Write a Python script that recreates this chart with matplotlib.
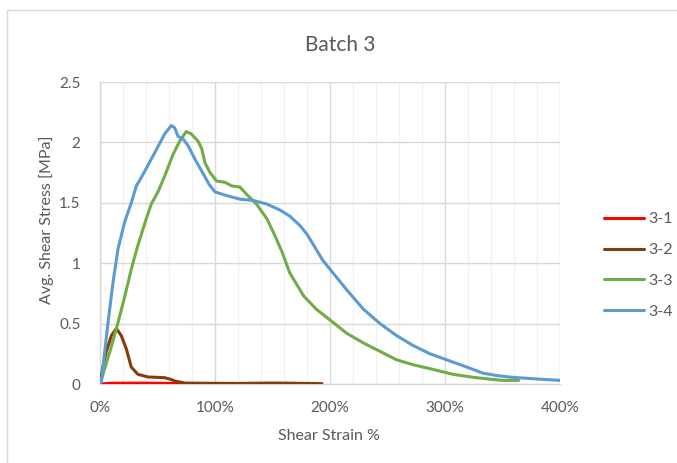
import matplotlib
matplotlib.use("Agg")
import matplotlib.pyplot as plt
from matplotlib.ticker import PercentFormatter, MultipleLocator
from matplotlib.patches import Rectangle

# Shear strain (%) and average shear stress (MPa) for each specimen
strain_31 = [0, 10, 20, 30, 40, 50, 60, 74]
stress_31 = [0, 0.006, 0.007, 0.007, 0.007, 0.006, 0.005, 0.003]

strain_32 = [0, 2.5, 5.5, 9.9, 14.2, 18.5, 22.9, 27.2, 33, 41.7, 50, 56.2, 61, 65, 73.6,
             90, 120, 150, 170, 193]
stress_32 = [0, 0.14, 0.27, 0.40, 0.46, 0.40, 0.29, 0.14, 0.08, 0.058, 0.055, 0.052, 0.04,
             0.025, 0.008, 0.006, 0.005, 0.008, 0.006, 0.003]

strain_33 = [0, 9.9, 15.7, 21.4, 27.2, 33, 40.3, 44.6, 50.4, 56.2, 63.5, 69.3, 75, 79.4,
             85.2, 88.4, 91.3, 95.7, 101.4, 108.7, 114.5, 121.7, 127.5, 136, 145, 152,
             158, 165, 177, 188, 200, 214.5, 229, 243.5, 258, 272, 290, 307, 325, 339,
             350, 364]
stress_33 = [0, 0.31, 0.51, 0.72, 0.95, 1.15, 1.37, 1.49, 1.59, 1.72, 1.90, 2.01, 2.09, 2.07,
             2.01, 1.95, 1.83, 1.75, 1.68, 1.67, 1.64, 1.63, 1.57, 1.49, 1.37, 1.23,
             1.10, 0.92, 0.73, 0.62, 0.53, 0.42, 0.34, 0.27, 0.20, 0.16, 0.12, 0.08, 0.055,
             0.04, 0.03, 0.03]

strain_34 = [0, 1.2, 4, 7, 11.3, 15.7, 21.4, 27.2, 31.6, 35.9, 41.7, 49, 56.2, 62, 65,
             67.8, 72.2, 76.8, 82.6, 89.8, 95, 100, 110, 121.7, 133, 145, 156.5, 165, 174,
             180, 194, 200, 214.5, 229, 243.5, 258, 272, 287, 301.5, 319, 333, 345, 359,
             382.6, 400]
stress_34 = [0, 0.02, 0.26, 0.51, 0.84, 1.12, 1.34, 1.50, 1.64, 1.71, 1.81, 1.94, 2.07, 2.14,
             2.12, 2.05, 2.03, 1.97, 1.86, 1.74, 1.65, 1.59, 1.56, 1.53, 1.52, 1.49, 1.44,
             1.39, 1.31, 1.24, 1.02, 0.95, 0.78, 0.62, 0.50, 0.40, 0.32, 0.25, 0.20, 0.14,
             0.09, 0.07, 0.055, 0.04, 0.03]

labels = ["3-1", "3-2", "3-3", "3-4"]
colors = ["#FF0000", "#843C0C", "#70AD47", "#5B9BD5"]
x_ticks = [0, 100, 200, 300, 400]
y_ticks = [0, 0.5, 1, 1.5, 2, 2.5]

plt.rcParams["font.family"] = ["Lato", "DejaVu Sans"]
TXT = "#595959"

W, H = 677, 463
fig = plt.figure(figsize=(W / 100, H / 100), dpi=100)

# chart area border
fig.patches.append(Rectangle((7 / W, -0.1), 1.2, 1 - 10 / H + 0.1, transform=fig.transFigure,
                             fill=False, edgecolor="#D9D9D9", linewidth=1.0))

ax = fig.add_axes([100 / W, 1 - 384 / H, 460 / W, 302 / H])

series = [(strain_31, stress_31), (strain_32, stress_32), (strain_33, stress_33), (strain_34, stress_34)]
for (sx, sy), lab, col in zip(series, labels, colors):
    ax.plot(sx, sy, color=col, linewidth=2.2, label=lab, solid_capstyle="round",
            solid_joinstyle="round", zorder=3)

ax.set_xlim(0, 400)
ax.set_ylim(0, 2.5)
ax.set_xticks(x_ticks)
ax.set_yticks(y_ticks)
ax.set_yticklabels(["0", "0.5", "1", "1.5", "2", "2.5"])
ax.xaxis.set_major_formatter(PercentFormatter(decimals=0))
ax.xaxis.set_minor_locator(MultipleLocator(20))

ax.grid(which="major", axis="both", color="#D9D9D9", linewidth=1.0, zorder=0)
ax.grid(which="minor", axis="x", color="#F2F2F2", linewidth=1.0, zorder=0)
ax.set_axisbelow(True)

for side in ["top", "right"]:
    ax.spines[side].set_visible(False)
for side in ["left", "bottom"]:
    ax.spines[side].set_color("#D9D9D9")
    ax.spines[side].set_linewidth(1.0)

ax.tick_params(which="both", length=0, labelsize=11, labelcolor=TXT)
ax.tick_params(axis="x", pad=12)
ax.tick_params(axis="y", pad=14)

fig.text(340 / W, 1 - 45 / H, "Batch 3", ha="center", va="center", fontsize=15, color=TXT)
fig.text(329 / W, 1 - 436 / H, "Shear Strain %", ha="center", va="center", fontsize=11.5, color=TXT)
fig.text(47 / W, 1 - 220 / H, "Avg. Shear Stress [MPa]", ha="center", va="center",
         rotation=90, fontsize=11.5, color=TXT)

fig.legend(loc="center left", bbox_to_anchor=(604 / W, 1 - 265.5 / H), frameon=False,
           fontsize=11.5, handlelength=2.5, handletextpad=0.3, labelspacing=1.05,
           borderpad=0, borderaxespad=0, labelcolor=TXT)

fig.savefig("out.png", dpi=100)
